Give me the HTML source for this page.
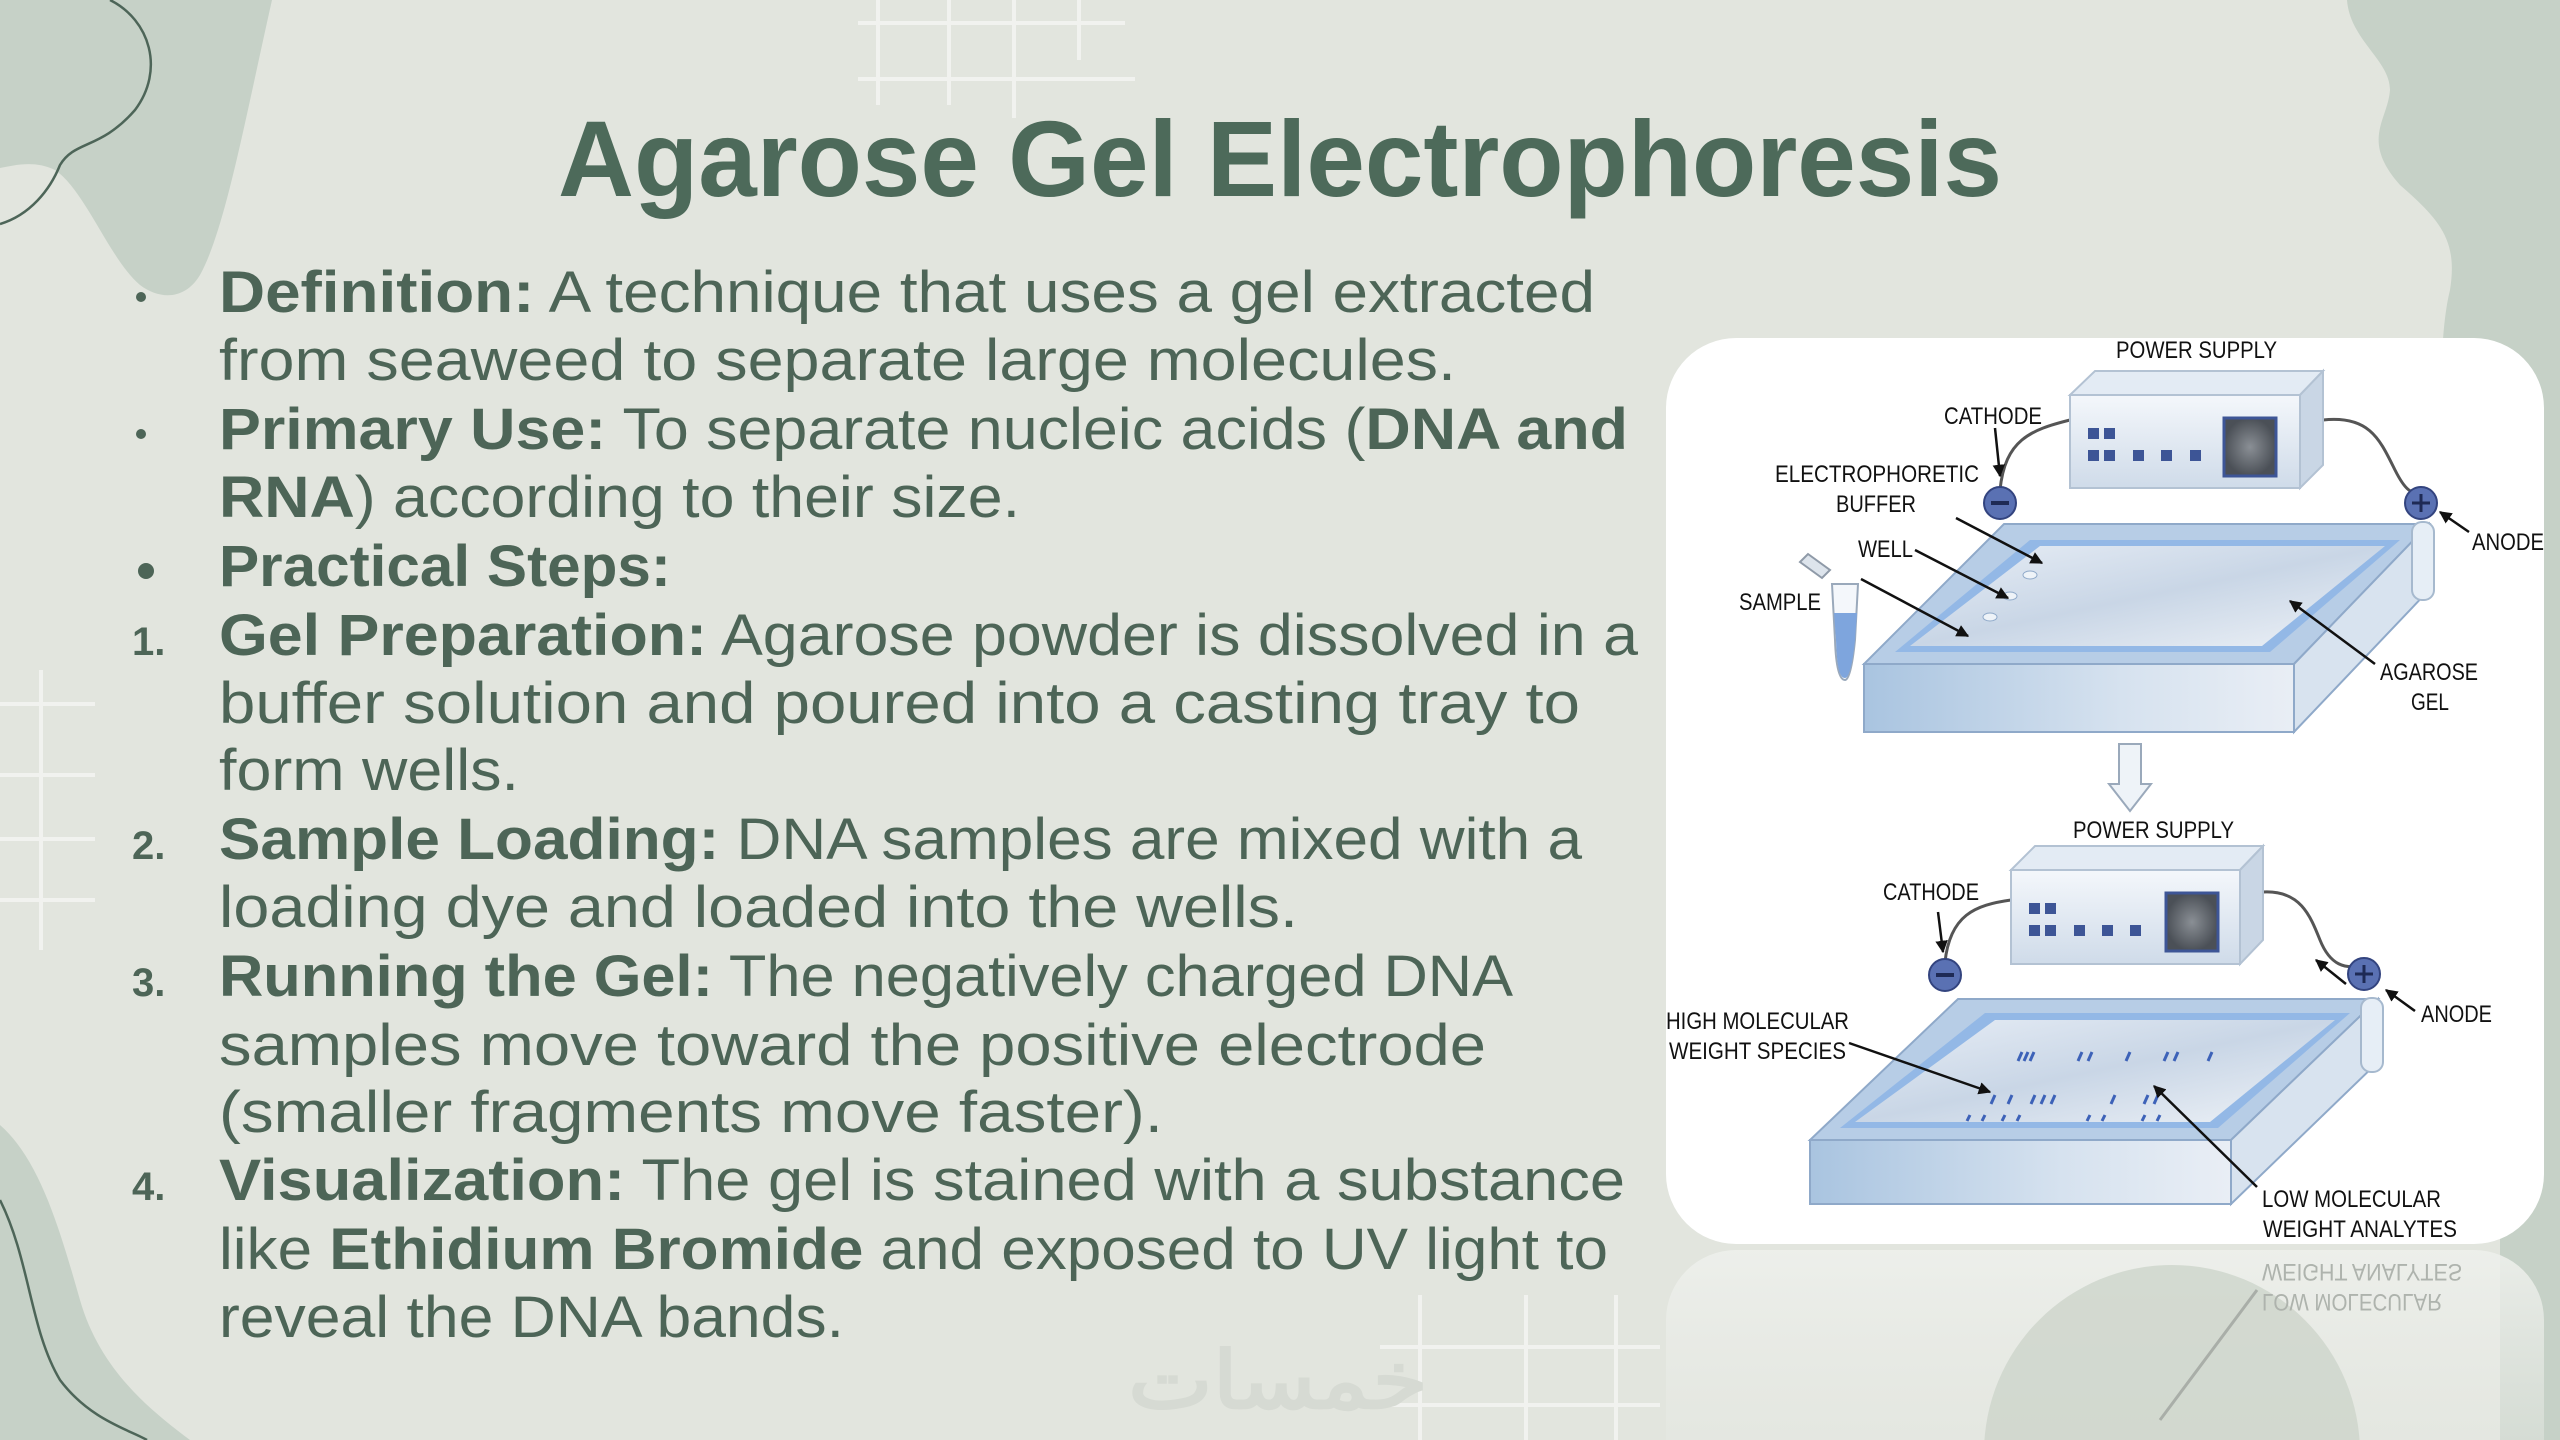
<!DOCTYPE html>
<html><head><meta charset="utf-8"><style>
html,body{margin:0;padding:0;width:2560px;height:1440px;overflow:hidden;background:#e2e5de}
svg{display:block;overflow:hidden}
</style></head><body>
<svg width="2560" height="1440" viewBox="0 0 2560 1440" xmlns="http://www.w3.org/2000/svg">
<defs>
<linearGradient id="front" x1="0" y1="0" x2="1" y2="0"><stop offset="0" stop-color="#a9c4e0"/><stop offset="0.6" stop-color="#d6e2ef"/><stop offset="1" stop-color="#e9eef5"/></linearGradient>
<linearGradient id="gel" x1="0" y1="0" x2="1" y2="1"><stop offset="0" stop-color="#e8eef6"/><stop offset="0.5" stop-color="#c9d6e6"/><stop offset="1" stop-color="#eef2f7"/></linearGradient>
<linearGradient id="box" x1="0" y1="0" x2="0" y2="1"><stop offset="0" stop-color="#f4f7fb"/><stop offset="1" stop-color="#cfdbe9"/></linearGradient>
<linearGradient id="refl" x1="0" y1="0" x2="0" y2="1"><stop offset="0" stop-color="#eef0ec" stop-opacity="0.9"/><stop offset="1" stop-color="#e4e7e1" stop-opacity="0.3"/></linearGradient>
<radialGradient id="disp"><stop offset="0" stop-color="#8a8f95"/><stop offset="1" stop-color="#4b5057"/></radialGradient>
<marker id="ah" viewBox="0 0 10 10" refX="9" refY="5" markerWidth="5" markerHeight="5" orient="auto"><path d="M0,0 L10,5 L0,10 z" fill="#111"/></marker>
<clipPath id="rc"><rect x="1666" y="1250" width="878" height="190"/></clipPath>
</defs>

<path d="M0,0 L272,0 C245,120 225,230 200,275 C185,300 160,300 140,285 C110,260 85,190 55,170 C35,160 15,165 0,168 Z" fill="#c6d1c7"/>
<path d="M0,224 C30,215 50,190 60,165 C75,140 100,150 135,110 C165,70 150,20 110,0" fill="none" stroke="#4d6558" stroke-width="2.5"/>
<path d="M2347,0 C2350,40 2390,60 2390,90 C2388,120 2360,140 2400,185 C2440,220 2458,240 2450,290 C2440,330 2440,400 2445,440 L2560,440 L2560,0 Z" fill="#c6d1c7"/>
<rect x="2500" y="400" width="60" height="1040" fill="#c6d1c7"/>
<path d="M0,1125 C40,1160 60,1230 80,1300 C100,1370 150,1410 190,1440 L0,1440 Z" fill="#c6d1c7"/>
<path d="M0,1200 C30,1260 30,1330 60,1380 C90,1420 130,1430 147,1440" fill="none" stroke="#4d6558" stroke-width="2.5"/>

<g stroke="#f3f4f1" stroke-width="4" opacity="0.9">
<line x1="878" y1="0" x2="878" y2="105"/><line x1="949" y1="0" x2="949" y2="105"/><line x1="1014" y1="0" x2="1014" y2="118"/><line x1="1079" y1="0" x2="1079" y2="60"/>
<line x1="858" y1="23" x2="1125" y2="23"/><line x1="858" y1="79" x2="1135" y2="79"/>
<line x1="41" y1="670" x2="41" y2="950"/>
<line x1="0" y1="704" x2="95" y2="704"/><line x1="0" y1="775" x2="95" y2="775"/><line x1="0" y1="839" x2="95" y2="839"/><line x1="0" y1="900" x2="95" y2="900"/>
<line x1="1420" y1="1295" x2="1420" y2="1440"/><line x1="1526" y1="1295" x2="1526" y2="1440"/><line x1="1616" y1="1295" x2="1616" y2="1440"/>
<line x1="1380" y1="1347" x2="1660" y2="1347"/><line x1="1380" y1="1405" x2="1660" y2="1405"/>
</g>

<text x="558" y="196" font-family="Liberation Sans, sans-serif" font-weight="bold" font-size="108" fill="#4d6a5a" textLength="1444" lengthAdjust="spacingAndGlyphs">Agarose Gel Electrophoresis</text>

<g font-family="Liberation Sans, sans-serif" font-size="58" fill="#4d6557">
<text x="219" y="312" textLength="1376" lengthAdjust="spacingAndGlyphs"><tspan font-weight="bold">Definition:</tspan> A technique that uses a gel extracted</text>
<text x="219" y="380" textLength="1237" lengthAdjust="spacingAndGlyphs">from seaweed to separate large molecules.</text>
<text x="219" y="449" textLength="1409" lengthAdjust="spacingAndGlyphs"><tspan font-weight="bold">Primary Use:</tspan> To separate nucleic acids (<tspan font-weight="bold">DNA and</tspan></text>
<text x="219" y="517" textLength="801" lengthAdjust="spacingAndGlyphs"><tspan font-weight="bold">RNA</tspan>) according to their size.</text>
<text x="219" y="586" textLength="452" lengthAdjust="spacingAndGlyphs" font-weight="bold">Practical Steps:</text>
<text x="219" y="655" textLength="1419" lengthAdjust="spacingAndGlyphs"><tspan font-weight="bold">Gel Preparation:</tspan> Agarose powder is dissolved in a</text>
<text x="219" y="723" textLength="1361" lengthAdjust="spacingAndGlyphs">buffer solution and poured into a casting tray to</text>
<text x="219" y="790" textLength="300" lengthAdjust="spacingAndGlyphs">form wells.</text>
<text x="219" y="859" textLength="1363" lengthAdjust="spacingAndGlyphs"><tspan font-weight="bold">Sample Loading:</tspan> DNA samples are mixed with a</text>
<text x="219" y="927" textLength="1079" lengthAdjust="spacingAndGlyphs">loading dye and loaded into the wells.</text>
<text x="219" y="996" textLength="1294" lengthAdjust="spacingAndGlyphs"><tspan font-weight="bold">Running the Gel:</tspan> The negatively charged DNA</text>
<text x="219" y="1065" textLength="1267" lengthAdjust="spacingAndGlyphs">samples move toward the positive electrode</text>
<text x="219" y="1132" textLength="944" lengthAdjust="spacingAndGlyphs">(smaller fragments move faster).</text>
<text x="219" y="1200" textLength="1406" lengthAdjust="spacingAndGlyphs"><tspan font-weight="bold">Visualization:</tspan> The gel is stained with a substance</text>
<text x="219" y="1269" textLength="1389" lengthAdjust="spacingAndGlyphs">like <tspan font-weight="bold">Ethidium Bromide</tspan> and exposed to UV light to</text>
<text x="219" y="1337" textLength="625" lengthAdjust="spacingAndGlyphs">reveal the DNA bands.</text>
</g>
<g fill="#4d6557">
<circle cx="141" cy="297" r="5"/><circle cx="141" cy="434" r="5"/><circle cx="146" cy="571" r="8"/>
</g>
<g font-family="Liberation Sans, sans-serif" font-weight="bold" font-size="40" fill="#4d6557">
<text x="132" y="655">1.</text><text x="132" y="859">2.</text><text x="132" y="996">3.</text><text x="132" y="1200">4.</text>
</g>

<text x="1128" y="1408" font-family="Liberation Sans, 'WenQuanYi Zen Hei', sans-serif" font-size="80" font-weight="bold" fill="#d6dad3" textLength="300" lengthAdjust="spacingAndGlyphs">خمسات</text>

<g clip-path="url(#rc)">
<rect x="1666" y="1250" width="878" height="260" rx="70" fill="url(#refl)"/>
<circle cx="2172" cy="1453" r="188" fill="#cdd5cb" opacity="0.8"/>
<g font-family="Liberation Sans, sans-serif" font-size="24" fill="#aeb3ad" transform="translate(0,2514) scale(1,-1)">
<text x="2262" y="1250" textLength="200" lengthAdjust="spacingAndGlyphs">WEIGHT ANALYTES</text>
<text x="2262" y="1220" textLength="180" lengthAdjust="spacingAndGlyphs">LOW MOLECULAR</text>
</g>
<line x1="2257" y1="1290" x2="2160" y2="1420" stroke="#a9aea8" stroke-width="3"/>
</g>

<rect x="1666" y="338" width="878" height="906" rx="70" fill="#ffffff"/>

<g>
<path d="M2000,490 C2005,440 2030,430 2070,420" fill="none" stroke="#555" stroke-width="3"/>
<path d="M2323,420 C2370,415 2380,440 2395,470 C2405,490 2412,495 2421,492" fill="none" stroke="#555" stroke-width="3"/>
<polygon points="2070,395 2095,371 2323,371 2300,395" fill="#e3ebf4" stroke="#b3c2d3" stroke-width="2"/>
<rect x="2070" y="395" width="230" height="93" fill="url(#box)" stroke="#b3c2d3" stroke-width="2"/>
<polygon points="2300,395 2323,371 2323,465 2300,488" fill="#c9d6e5" stroke="#b3c2d3" stroke-width="2"/>
<g fill="#3d5596"><rect x="2088" y="428" width="11" height="11"/><rect x="2104" y="428" width="11" height="11"/><rect x="2088" y="450" width="11" height="11"/><rect x="2104" y="450" width="11" height="11"/><rect x="2133" y="450" width="11" height="11"/><rect x="2161" y="450" width="11" height="11"/><rect x="2190" y="450" width="11" height="11"/></g>
<rect x="2224" y="418" width="52" height="58" fill="url(#disp)" stroke="#3d5596" stroke-width="3"/>
<polygon points="2004,524 2429,524 2294,664 1864,664" fill="#b7cde6" stroke="#8fa9c9" stroke-width="2"/>
<polygon points="2030,540 2400,540 2270,652 1895,652" fill="#93b8e6"/>
<polygon points="2040,546 2385,546 2262,646 1910,646" fill="url(#gel)"/>
<polygon points="1864,664 2294,664 2294,732 1864,732" fill="url(#front)" stroke="#8fa9c9" stroke-width="2"/>
<polygon points="2294,664 2429,524 2429,590 2294,732" fill="#d8e3ef" stroke="#8fa9c9" stroke-width="2"/>
<rect x="2412" y="522" width="22" height="78" rx="10" fill="#e6eef6" stroke="#a6b9ce" stroke-width="2"/>
<g fill="#eef3f8" stroke="#8fa9c9"><ellipse cx="2030" cy="575" rx="7" ry="4"/><ellipse cx="2010" cy="596" rx="7" ry="4"/><ellipse cx="1990" cy="617" rx="7" ry="4"/></g>
<circle cx="2000" cy="503" r="16" fill="#5a71b3" stroke="#33447f" stroke-width="2"/><rect x="1991" y="501" width="18" height="4" fill="#1e2a55"/>
<circle cx="2421" cy="503" r="16" fill="#5a71b3" stroke="#33447f" stroke-width="2"/><path d="M2412,503 h18 M2421,494 v18" stroke="#1e2a55" stroke-width="3"/>
<path d="M1832,584 L1858,584 L1855,640 C1852,670 1848,680 1845,680 C1840,680 1836,670 1835,640 Z" fill="#f4f7fb" stroke="#9aa9bb" stroke-width="2"/>
<path d="M1834,613 L1857,613 L1855,640 C1852,670 1848,678 1845,678 C1840,678 1837,670 1836,640 Z" fill="#7ea5dd"/>
<polygon points="1800,562 1808,554 1830,570 1822,578" fill="#dde4ec" stroke="#8f9aa8" stroke-width="2"/>
<g stroke="#111" stroke-width="2.5" fill="none" marker-end="url(#ah)">
<line x1="1995" y1="428" x2="2000" y2="476"/>
<line x1="1956" y1="518" x2="2042" y2="563"/>
<line x1="1915" y1="550" x2="2008" y2="598"/>
<line x1="1861" y1="579" x2="1968" y2="636"/>
<line x1="2469" y1="532" x2="2440" y2="512"/>
<line x1="2375" y1="664" x2="2290" y2="601"/>
</g>
<path d="M2119,744 h22 v40 h10 l-21,27 l-21,-27 h10 z" fill="#eef3f8" stroke="#9aa9bb" stroke-width="2"/>
</g>

<g>
<path d="M1945,962 C1950,915 1975,905 2011,900" fill="none" stroke="#555" stroke-width="3"/>
<path d="M2263,892 C2300,890 2310,915 2320,940 C2330,965 2345,970 2364,965" fill="none" stroke="#555" stroke-width="3"/>
<polygon points="2011,870 2035,846 2263,846 2240,870" fill="#e3ebf4" stroke="#b3c2d3" stroke-width="2"/>
<rect x="2011" y="870" width="229" height="94" fill="url(#box)" stroke="#b3c2d3" stroke-width="2"/>
<polygon points="2240,870 2263,846 2263,940 2240,964" fill="#c9d6e5" stroke="#b3c2d3" stroke-width="2"/>
<g fill="#3d5596"><rect x="2029" y="903" width="11" height="11"/><rect x="2045" y="903" width="11" height="11"/><rect x="2029" y="925" width="11" height="11"/><rect x="2045" y="925" width="11" height="11"/><rect x="2074" y="925" width="11" height="11"/><rect x="2102" y="925" width="11" height="11"/><rect x="2130" y="925" width="11" height="11"/></g>
<rect x="2166" y="893" width="52" height="58" fill="url(#disp)" stroke="#3d5596" stroke-width="3"/>
<polygon points="1958,999 2378,999 2231,1140 1810,1140" fill="#b7cde6" stroke="#8fa9c9" stroke-width="2"/>
<polygon points="1985,1013 2350,1013 2218,1128 1840,1128" fill="#93b8e6"/>
<polygon points="1995,1020 2335,1020 2210,1122 1855,1122" fill="url(#gel)"/>
<polygon points="1810,1140 2231,1140 2231,1204 1810,1204" fill="url(#front)" stroke="#8fa9c9" stroke-width="2"/>
<polygon points="2231,1140 2378,999 2378,1062 2231,1204" fill="#d8e3ef" stroke="#8fa9c9" stroke-width="2"/>
<rect x="2361" y="998" width="22" height="74" rx="10" fill="#e6eef6" stroke="#a6b9ce" stroke-width="2"/>
<g stroke="#3d62b8" stroke-width="3">
<path d="M2022,1052 l-4,9 M2028,1052 l-4,9 M2034,1052 l-4,9 M2082,1052 l-4,9 M2092,1052 l-4,9 M2130,1052 l-4,9 M2168,1052 l-4,9 M2178,1052 l-4,9 M2212,1052 l-4,9"/>
<path d="M1995,1095 l-4,9 M2012,1095 l-4,9 M2035,1095 l-4,9 M2045,1095 l-4,9 M2055,1095 l-4,9 M2115,1095 l-4,9 M2148,1095 l-4,9 M2158,1095 l-4,9"/>
<path d="M1970,1115 l-3,6 M1985,1115 l-3,6 M2005,1115 l-3,6 M2020,1115 l-3,6 M2090,1115 l-3,6 M2105,1115 l-3,6 M2145,1115 l-3,6 M2160,1115 l-3,6"/>
</g>
<circle cx="1945" cy="975" r="16" fill="#5a71b3" stroke="#33447f" stroke-width="2"/><rect x="1936" y="973" width="18" height="4" fill="#1e2a55"/>
<circle cx="2364" cy="974" r="16" fill="#5a71b3" stroke="#33447f" stroke-width="2"/><path d="M2355,974 h18 M2364,965 v18" stroke="#1e2a55" stroke-width="3"/>
<g stroke="#111" stroke-width="2.5" fill="none" marker-end="url(#ah)">
<line x1="1938" y1="912" x2="1943" y2="952"/>
<line x1="1849" y1="1043" x2="1990" y2="1092"/>
<line x1="2257" y1="1187" x2="2154" y2="1086"/>
<line x1="2415" y1="1011" x2="2386" y2="990"/>
<line x1="2346" y1="984" x2="2316" y2="960"/>
</g>
</g>

<g font-family="Liberation Sans, sans-serif" font-size="24" fill="#111">
<text x="2116" y="358" textLength="161" lengthAdjust="spacingAndGlyphs">POWER SUPPLY</text>
<text x="1944" y="424" textLength="98" lengthAdjust="spacingAndGlyphs">CATHODE</text>
<text x="1775" y="482" textLength="204" lengthAdjust="spacingAndGlyphs">ELECTROPHORETIC</text>
<text x="1836" y="512" textLength="80" lengthAdjust="spacingAndGlyphs">BUFFER</text>
<text x="1858" y="557" textLength="55" lengthAdjust="spacingAndGlyphs">WELL</text>
<text x="1739" y="610" textLength="82" lengthAdjust="spacingAndGlyphs">SAMPLE</text>
<text x="2472" y="550" textLength="72" lengthAdjust="spacingAndGlyphs">ANODE</text>
<text x="2380" y="680" textLength="98" lengthAdjust="spacingAndGlyphs">AGAROSE</text>
<text x="2411" y="710" textLength="38" lengthAdjust="spacingAndGlyphs">GEL</text>
<text x="2073" y="838" textLength="161" lengthAdjust="spacingAndGlyphs">POWER SUPPLY</text>
<text x="1883" y="900" textLength="96" lengthAdjust="spacingAndGlyphs">CATHODE</text>
<text x="2421" y="1022" textLength="71" lengthAdjust="spacingAndGlyphs">ANODE</text>
<text x="1666" y="1029" textLength="183" lengthAdjust="spacingAndGlyphs">HIGH MOLECULAR</text>
<text x="1669" y="1059" textLength="177" lengthAdjust="spacingAndGlyphs">WEIGHT SPECIES</text>
<text x="2262" y="1207" textLength="179" lengthAdjust="spacingAndGlyphs">LOW MOLECULAR</text>
<text x="2263" y="1237" textLength="194" lengthAdjust="spacingAndGlyphs">WEIGHT ANALYTES</text>
</g>
</svg>
</body></html>
